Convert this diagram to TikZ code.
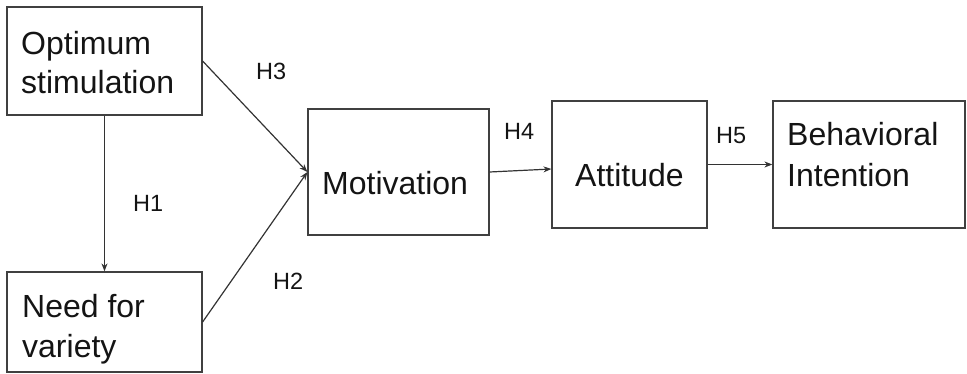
\documentclass[tikz,border=0pt]{standalone}
\usepackage{fontspec}
\setmainfont{Liberation Sans}
\usetikzlibrary{arrows.meta}
\begin{document}
\begin{tikzpicture}[x=1pt,y=-1pt,
  box/.style={draw=black!75,line width=1.2pt,inner sep=0pt},
  txt/.style={anchor=base west,inner sep=0pt,font=\fontsize{32}{40}\selectfont,align=left,text=black!92},
  hlab/.style={anchor=base west,inner sep=0pt,font=\fontsize{23.5}{28}\selectfont,text=black!92},
  arr/.style={draw=black!80,line width=1.2pt,-{Stealth[length=8pt,width=6pt]}}]
\useasboundingbox (0,0) rectangle (967,374);
% boxes
\node[box,minimum width=195pt,minimum height=108pt] (os) at (104.5,61) {};
\node[box,minimum width=195pt,minimum height=100pt] (nv) at (104.5,322) {};
\node[box,minimum width=181pt,minimum height=126pt] (mot) at (398.5,172) {};
\node[box,minimum width=155pt,minimum height=127pt] (att) at (629.5,164.5) {};
\node[box,minimum width=192pt,minimum height=127pt] (bi) at (869,164.5) {};
% texts
\node[txt] (tos1) at (21,55) {Optimum};
\node[txt] (tos2) at (21,94) {stimulation};
\node[txt] (tnv1) at (22,317) {Need for};
\node[txt] (tnv2) at (22,357) {variety};
\node[txt] (tmot) at (322,195) {Motivation};
\node[txt] (tatt) at (575,187) {Attitude};
\node[txt] (tbi1) at (787,146) {Behavioral};
\node[txt] (tbi2) at (787,187) {Intention};
% labels
\node[hlab] (h1) at (133,212) {H1};
\node[hlab] (h2) at (273,290) {H2};
\node[hlab] (h3) at (256,80) {H3};
\node[hlab] (h4) at (504,140) {H4};
\node[hlab] (h5) at (716,144) {H5};
% arrows
\draw[arr] (os.south) -- (nv.north);
\draw[arr] (os.east) -- (mot.west);
\draw[arr] (nv.east) -- (mot.west);
\draw[arr] (mot.east) -- ([yshift=-4.5pt]att.west);
\draw[arr] (att.east) -- (bi.west);
\end{tikzpicture}
\end{document}
